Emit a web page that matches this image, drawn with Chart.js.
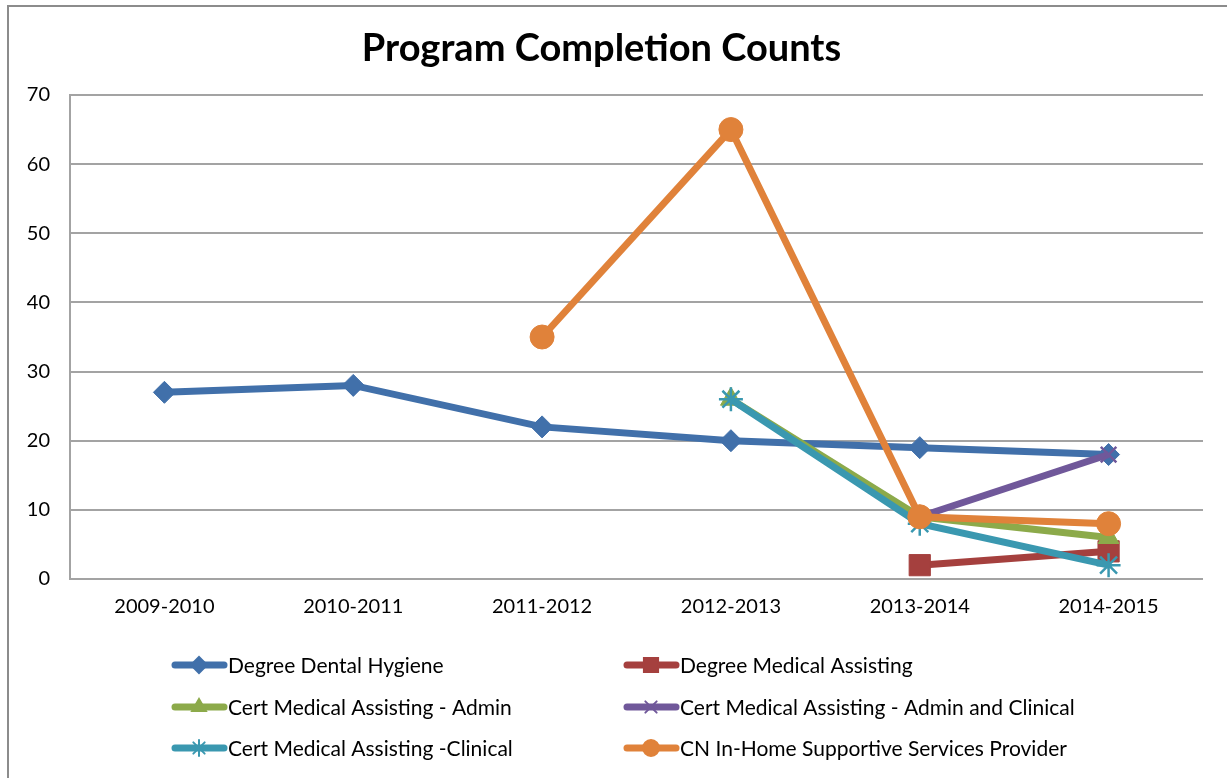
<!DOCTYPE html>
<html>
<head>
<meta charset="utf-8">
<script src="https://cdn.jsdelivr.net/npm/chart.js@4.4.1/dist/chart.umd.min.js"></script>
<style>
html,body{margin:0;padding:0;background:#fff;}
#wrap{position:relative;width:1227px;height:778px;}
</style>
</head>
<body>
<div id="wrap"><canvas id="c" width="1227" height="778"></canvas></div>
<script>
const categories = ['2009-2010','2010-2011','2011-2012','2012-2013','2013-2014','2014-2015'];
const seriesNames = ['Degree Dental Hygiene','Degree Medical Assisting','Cert Medical Assisting - Admin','Cert Medical Assisting - Admin and Clinical','Cert Medical Assisting -Clinical','CN In-Home Supportive Services Provider'];
const dentalHygiene = [27, 28, 22, 20, 19, 18];
const degreeMedAssist = [null, null, null, null, 2, 4];
const certMAAdmin = [null, null, null, 26, 9, 6];
const certMAAdminClinical = [null, null, null, null, 9, 18];
const certMAClinical = [null, null, null, 26, 8, 2];
const cnInHome = [null, null, 35, 65, 9, 8];
const yTicks = [0, 10, 20, 30, 40, 50, 60, 70];

const seriesData = [dentalHygiene, degreeMedAssist, certMAAdmin, certMAAdminClinical, certMAClinical, cnInHome];
const colors = ['#4170AA','#A5403E','#8CAA4A','#70589A','#3A98B0','#E0823A'];
const styles = ['rectRot','rect','triangle','crossRot','star','circle'];
const radii = [11, 15, 12, 11, 12, 12];
const FONT = 'Lato, "Open Sans", sans-serif';

const datasets = seriesData.map((d, i) => ({
  label: seriesNames[i],
  data: d,
  borderColor: colors[i],
  backgroundColor: colors[i],
  borderWidth: 7,
  pointStyle: styles[i],
  pointRadius: radii[i],
  pointHoverRadius: radii[i],
  pointBorderWidth: (styles[i] === 'crossRot' || styles[i] === 'star') ? 2.5 : 1,
  pointBorderColor: colors[i],
  pointBackgroundColor: colors[i],
  tension: 0,
  spanGaps: false,
  order: 6 - i
}));

const framePlugin = {
  id: 'frame',
  beforeDraw(chart) {
    const ctx = chart.ctx;
    ctx.save();
    ctx.fillStyle = '#fff';
    ctx.fillRect(0, 0, chart.width, chart.height);
    ctx.strokeStyle = '#8c8c8c';
    ctx.lineWidth = 2;
    ctx.strokeRect(8, 6, 1260, 820);
    ctx.restore();
  },
  afterDraw(chart) {
    const ctx = chart.ctx;
    const cols = [172, 624];
    const rows = [665, 707, 748];
    ctx.save();
    chart.data.datasets.forEach((ds, i) => {
      const x0 = cols[i % 2];
      const y = rows[Math.floor(i / 2)];
      ctx.strokeStyle = ds.borderColor;
      ctx.lineWidth = 7;
      ctx.lineCap = 'round';
      ctx.beginPath();
      ctx.moveTo(x0 + 3, y);
      ctx.lineTo(x0 + 52, y);
      ctx.stroke();
      ctx.fillStyle = ds.borderColor;
      ctx.strokeStyle = ds.borderColor;
      ctx.lineWidth = 2;
      Chart.helpers.drawPoint(ctx, {
        pointStyle: ds.pointStyle,
        radius: ds.pointStyle === 'rect' ? 10 : 8,
        rotation: 0,
        borderWidth: 2
      }, x0 + 27, y);
      ctx.fillStyle = '#000';
      ctx.font = '21px ' + FONT;
      ctx.textBaseline = 'middle';
      ctx.textAlign = 'left';
      ctx.fillText(ds.label, x0 + 56, y + 1);
    });
    ctx.restore();
  }
};

new Chart(document.getElementById('c'), {
  type: 'line',
  data: { labels: categories, datasets },
  plugins: [framePlugin],
  options: {
    responsive: false,
    animation: false,
    events: [],
    layout: { padding: { left: 0, right: 24, top: 0, bottom: 0 } },
    plugins: {
      legend: { display: false },
      tooltip: { enabled: false },
      title: {
        display: true,
        text: 'Program Completion Counts',
        color: '#000',
        font: { family: FONT, size: 38, weight: 'bold', lineHeight: 1.2 },
        padding: { top: 26, bottom: 23.4 }
      }
    },
    scales: {
      x: {
        type: 'category',
        offset: true,
        grid: { display: false, drawTicks: false },
        border: { display: false },
        ticks: { color: '#000', font: { family: FONT, size: 20 }, padding: 16, maxRotation: 0, autoSkip: false },
        afterFit(scale) { scale.height = 199; }
      },
      y: {
        min: 0,
        max: 70,
        afterBuildTicks(scale) { scale.ticks = yTicks.map(v => ({ value: v })); },
        grid: { color: '#a3a3a3', lineWidth: 2, drawTicks: false },
        border: { display: true, color: '#a3a3a3', width: 2 },
        ticks: { color: '#000', font: { family: FONT, size: 20 }, padding: 20 },
        afterFit(scale) { scale.width = 70; }
      }
    }
  }
});
</script>
</body>
</html>
